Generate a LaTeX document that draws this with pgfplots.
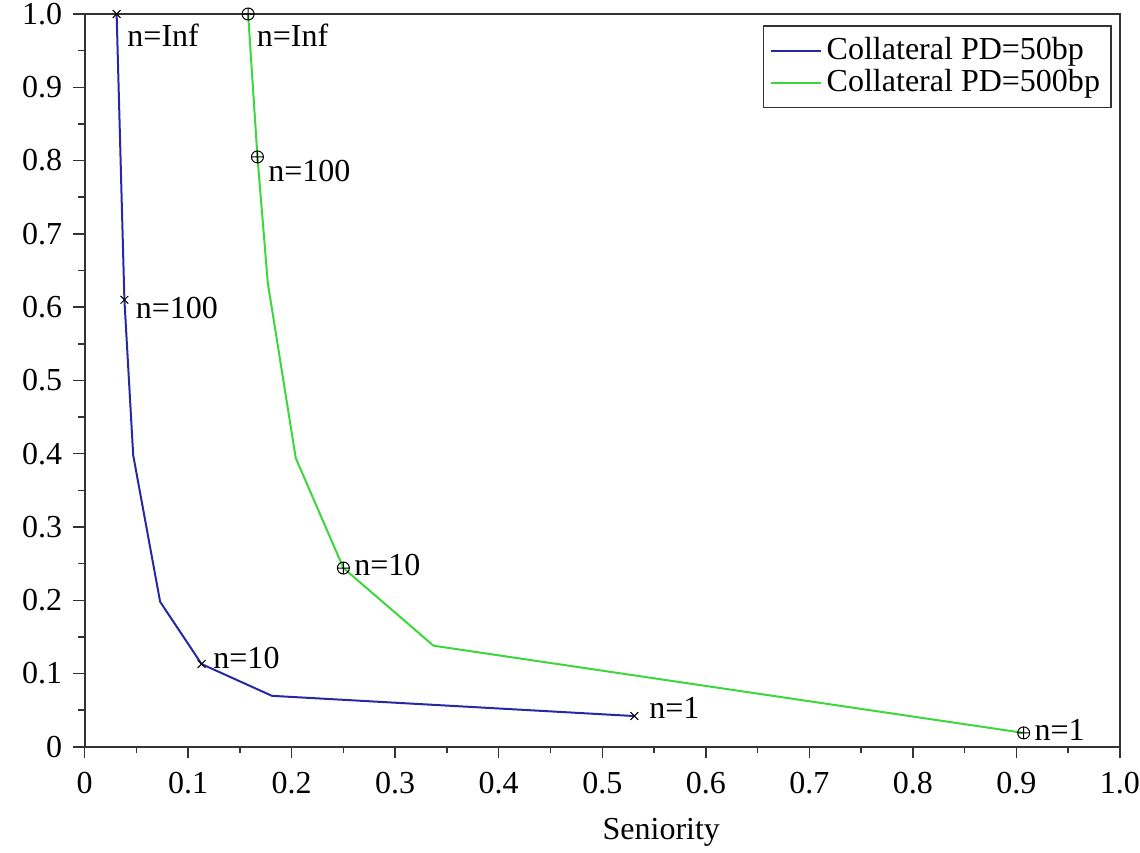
\documentclass[border=0pt]{standalone}
\usepackage{fontspec}
\setmainfont{Liberation Serif}
\usepackage{pgfplots}
\pgfplotsset{compat=1.18}
\definecolor{pdblue}{RGB}{40,40,165}
\definecolor{pdgreen}{RGB}{60,215,60}

\begin{document}
\fontsize{12.8}{15}\selectfont
\begin{tikzpicture}
\begin{axis}[
  scale only axis,
  width=414pt, height=293pt,
  xmin=0, xmax=1, ymin=0, ymax=1,
  xtick={0,0.1,...,1.0}, ytick={0,0.1,...,1.0},
  xticklabels={0,0.1,0.2,0.3,0.4,0.5,0.6,0.7,0.8,0.9,1.0},
  yticklabels={0,0.1,0.2,0.3,0.4,0.5,0.6,0.7,0.8,0.9,1.0},
  minor tick num=1,
  xtick pos=bottom, ytick pos=left,
  tick align=outside,
  major tick length=4.5pt, minor tick length=2.5pt,
  tick style={black!80, line width=0.6pt},
  axis line style={black!80, line width=0.8pt},
  xticklabel style={yshift=-1pt},
  xlabel={Seniority},
  x label style={at={(axis description cs:0.557,-0.117)}, anchor=center},
  legend style={at={(1,1)}, anchor=north east, xshift=-3.2pt, yshift=-4.4pt,
    draw=black!80, line width=0.6pt, inner sep=2.5pt, row sep=-2pt,
    font=\fontsize{12.8}{15}\selectfont},
  legend cell align=left,
  legend image code/.code={\draw[#1] (0cm,0cm) -- (0.7cm,0cm);},
  clip=false,
]
\addplot[pdblue, line width=0.8pt, mark=x, mark size=2.2pt,
  mark indices={1,2,5,7}, mark options={black, line width=0.4pt}] coordinates {
  (0.031,1.0) (0.0385,0.61) (0.047,0.398) (0.073,0.198)
  (0.113,0.113) (0.181,0.0696) (0.531,0.042)
};
\addlegendentry{Collateral PD=50bp}
\addplot[pdgreen, line width=0.8pt, mark=oplus, mark size=2.4pt,
  mark indices={1,2,5,7}, mark options={black, line width=0.4pt}] coordinates {
  (0.158,1.0) (0.167,0.805) (0.177,0.633) (0.204,0.394)
  (0.25,0.244) (0.337,0.138) (0.907,0.019)
};
\addlegendentry{Collateral PD=500bp}

\node[anchor=west, inner sep=0] at (axis cs:0.041,0.971) {n=Inf};
\node[anchor=west, inner sep=0] at (axis cs:0.166,0.971) {n=Inf};
\node[anchor=west, inner sep=0] at (axis cs:0.177,0.786) {n=100};
\node[anchor=west, inner sep=0] at (axis cs:0.049,0.599) {n=100};
\node[anchor=west, inner sep=0] at (axis cs:0.124,0.121) {n=10};
\node[anchor=west, inner sep=0] at (axis cs:0.260,0.248) {n=10};
\node[anchor=west, inner sep=0] at (axis cs:0.545,0.053) {n=1};
\node[anchor=west, inner sep=0] at (axis cs:0.917,0.023) {n=1};
\end{axis}
\path (current axis.south west) ++(-33.8pt,-42.4pt) coordinate (bbA);
\path (current axis.north east) ++(8pt,5.6pt) coordinate (bbB);
\pgfresetboundingbox
\useasboundingbox (bbA) rectangle (bbB);
\end{tikzpicture}
\end{document}
